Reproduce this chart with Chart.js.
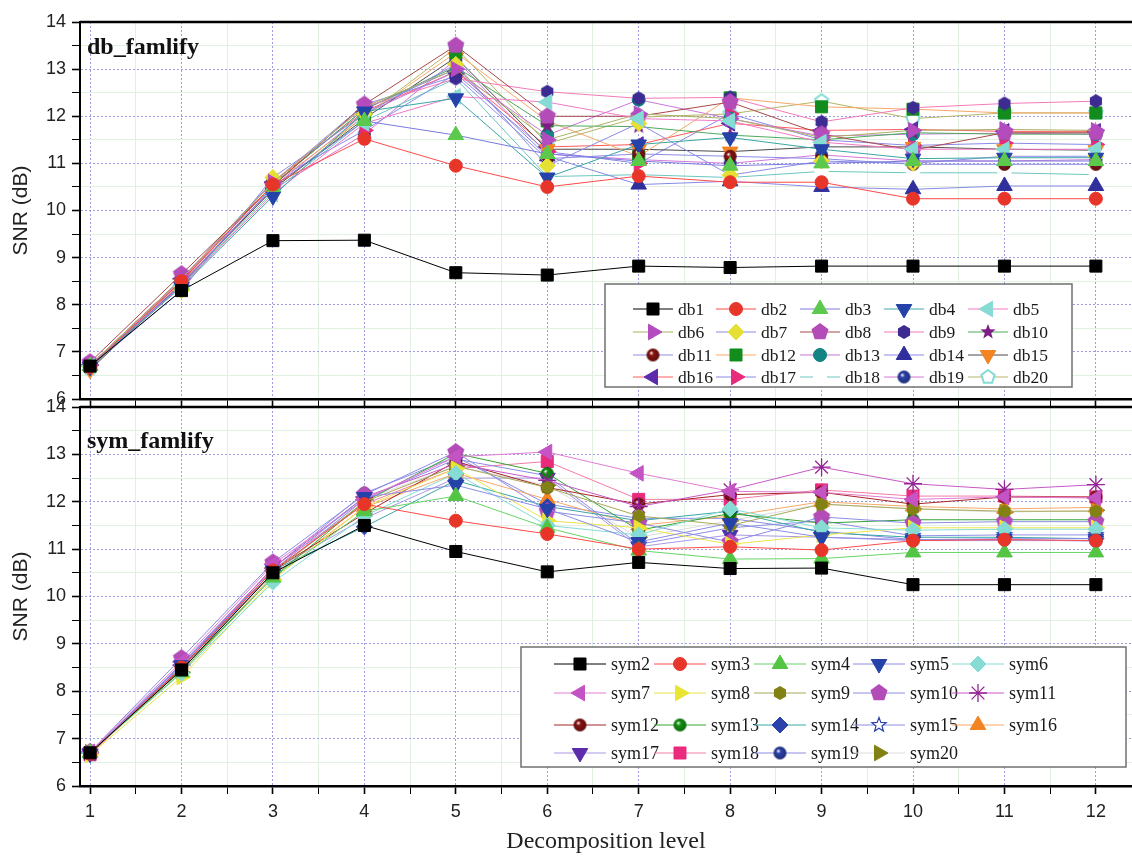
<!DOCTYPE html>
<html>
<head>
<meta charset="utf-8">
<title>SNR vs decomposition level</title>
<script src="https://cdn.jsdelivr.net/npm/chart.js@4.4.0/dist/chart.umd.min.js"></script>
<style>
  html, body { margin: 0; padding: 0; background: #fff; }
  #wrap { position: relative; width: 1132px; height: 856px; }
  #wrap canvas { position: absolute; left: 0; top: 0; }
</style>
</head>
<body>
<div id="wrap">
  <canvas id="dbChart" width="1132" height="856"></canvas>
  <canvas id="symChart" width="1132" height="856"></canvas>
</div>
<script>
// Decomposition levels on the x axis
const levels = [1, 2, 3, 4, 5, 6, 7, 8, 9, 10, 11, 12];

// Daubechies family, SNR (dB) per level
const dbNames = ['db1', 'db2', 'db3', 'db4', 'db5', 'db6', 'db7', 'db8', 'db9', 'db10',
                 'db11', 'db12', 'db13', 'db14', 'db15', 'db16', 'db17', 'db18', 'db19', 'db20'];
const dbSNR = [
  [6.70, 8.30, 9.36, 9.37, 8.68, 8.63, 8.82, 8.79, 8.82, 8.82, 8.82, 8.82],
  [6.68, 8.50, 10.55, 11.52, 10.95, 10.50, 10.73, 10.60, 10.60, 10.25, 10.25, 10.25],
  [6.70, 8.42, 10.50, 11.90, 11.60, 11.20, 11.05, 10.95, 11.00, 11.05, 11.05, 11.05],
  [6.68, 8.38, 10.30, 12.10, 12.38, 10.70, 11.40, 11.55, 11.30, 11.10, 11.12, 11.12],
  [6.70, 8.40, 10.35, 11.85, 12.42, 12.30, 11.95, 11.90, 11.45, 11.30, 11.30, 11.30],
  [6.72, 8.55, 10.60, 12.20, 13.00, 11.50, 12.05, 11.95, 11.55, 11.70, 11.72, 11.70],
  [6.68, 8.30, 10.70, 12.05, 13.10, 10.95, 11.85, 10.75, 11.05, 11.00, 11.15, 11.15],
  [6.78, 8.65, 10.52, 12.25, 13.50, 12.00, 12.00, 12.30, 11.62, 11.28, 11.65, 11.65],
  [6.72, 8.52, 10.60, 12.20, 12.80, 12.52, 12.38, 12.40, 11.88, 12.18, 12.27, 12.32],
  [6.70, 8.50, 10.55, 12.15, 13.05, 11.80, 11.78, 11.60, 11.50, 11.65, 11.62, 11.62],
  [6.71, 8.55, 10.60, 12.25, 12.85, 11.10, 11.20, 11.15, 11.10, 10.98, 10.98, 10.98],
  [6.69, 8.48, 10.55, 12.00, 13.35, 11.90, 11.15, 12.39, 12.20, 12.15, 12.07, 12.07],
  [6.70, 8.45, 10.50, 12.05, 12.95, 11.60, 12.35, 11.95, 11.58, 11.62, 11.64, 11.62],
  [6.70, 8.50, 10.55, 12.15, 13.00, 11.15, 10.55, 10.62, 10.50, 10.45, 10.52, 10.52],
  [6.62, 8.45, 10.45, 11.95, 13.25, 11.30, 11.30, 11.25, 11.35, 11.35, 11.30, 11.28],
  [6.72, 8.55, 10.60, 12.10, 12.95, 11.35, 11.40, 11.85, 11.70, 11.72, 11.68, 11.68],
  [6.72, 8.55, 10.62, 11.70, 12.90, 11.25, 11.00, 12.05, 11.50, 11.38, 11.43, 11.40],
  [6.68, 8.40, 10.40, 11.90, 12.80, 10.72, 10.76, 10.70, 10.83, 10.80, 10.80, 10.76],
  [6.67, 8.45, 10.45, 11.62, 13.20, 11.20, 11.08, 11.00, 11.18, 11.05, 11.05, 11.08],
  [6.65, 8.42, 10.45, 12.00, 13.45, 11.42, 11.98, 12.05, 12.32, 11.95, 12.07, 12.07]
];

// Symlet family, SNR (dB) per level
const symNames = ['sym2', 'sym3', 'sym4', 'sym5', 'sym6', 'sym7', 'sym8', 'sym9', 'sym10', 'sym11',
                  'sym12', 'sym13', 'sym14', 'sym15', 'sym16', 'sym17', 'sym18', 'sym19', 'sym20'];
const symSNR = [
  [6.70, 8.45, 10.50, 11.50, 10.95, 10.52, 10.72, 10.59, 10.60, 10.25, 10.25, 10.25],
  [6.68, 8.50, 10.55, 11.95, 11.60, 11.32, 11.00, 11.05, 10.98, 11.18, 11.20, 11.18],
  [6.70, 8.40, 10.40, 11.80, 12.12, 11.45, 10.97, 10.79, 10.80, 10.93, 10.93, 10.93],
  [6.68, 8.55, 10.55, 12.10, 12.35, 11.85, 11.15, 11.55, 11.25, 11.20, 11.22, 11.22],
  [6.70, 8.38, 10.30, 11.70, 12.60, 11.50, 11.30, 11.85, 11.45, 11.40, 11.42, 11.42],
  [6.72, 8.62, 10.68, 12.05, 12.95, 13.05, 12.60, 12.22, 12.20, 12.05, 12.10, 12.08],
  [6.66, 8.30, 10.35, 11.90, 12.70, 11.60, 11.45, 11.10, 11.30, 11.45, 11.45, 11.45],
  [6.70, 8.45, 10.50, 12.00, 12.75, 12.30, 11.70, 11.50, 11.95, 11.85, 11.80, 11.80],
  [6.72, 8.70, 10.72, 12.15, 13.05, 11.80, 11.55, 11.15, 11.68, 11.55, 11.58, 11.58],
  [6.70, 8.55, 10.60, 12.10, 12.80, 12.45, 11.90, 12.25, 12.73, 12.38, 12.26, 12.36],
  [6.68, 8.50, 10.55, 11.75, 12.85, 12.30, 11.95, 12.15, 12.20, 11.95, 12.10, 12.10],
  [6.69, 8.45, 10.40, 12.00, 13.02, 12.60, 11.40, 11.75, 11.55, 11.62, 11.62, 11.62],
  [6.70, 8.55, 10.55, 11.47, 12.45, 11.90, 11.60, 11.80, 11.35, 11.25, 11.25, 11.22],
  [6.68, 8.50, 10.50, 12.05, 12.90, 12.55, 11.10, 11.45, 11.60, 11.28, 11.30, 11.30],
  [6.70, 8.40, 10.45, 11.88, 12.60, 12.05, 11.50, 11.70, 12.00, 11.90, 11.85, 11.88],
  [6.70, 8.52, 10.55, 11.65, 12.50, 12.50, 11.05, 11.30, 11.25, 11.18, 11.18, 11.18],
  [6.66, 8.48, 10.62, 11.95, 12.70, 12.85, 12.05, 12.05, 12.25, 12.12, 12.12, 12.10],
  [6.70, 8.58, 10.60, 12.18, 12.95, 11.95, 11.65, 11.65, 11.38, 11.20, 11.20, 11.17],
  [6.71, 8.40, 10.52, 12.05, 12.75, 12.35, 11.25, 11.60, 11.95, 11.85, 11.78, 11.82]
];

// Line colours and [symbol, symbol colour] for each series
const dbLineColors = ['#000000', '#ff4a4a', '#7a7ae0', '#3aa6a6', '#f27ac6', '#aab264', '#8c8ce6',
  '#a84848', '#f47ab8', '#4caa5c', '#8c8ce6', '#f8a868', '#c878d8', '#8888e6', '#4a4a4a',
  '#ff5a5a', '#8a8ae6', '#6cc6be', '#d278d8', '#b4b468'];
const dbMarkers = [['square', '#000000'], ['circle', '#e8352a'], ['up', '#5cc84c'], ['down', '#2442a8'],
  ['left', '#86dcd4'], ['right', '#b44cc0'], ['diamond', '#e6e034'], ['pentagon', '#b44cb8'],
  ['hexagon', '#3c2c92'], ['star', '#7c1c84'], ['ball', '#861212'], ['square', '#128c1c'],
  ['circle', '#128484'], ['up', '#30309c'], ['down', '#f28424'], ['left', '#5c2cac'],
  ['right', '#ea2a7c'], ['blank', '#ffffff'], ['ball', '#2c42aa'], ['ringPentagon', '#86dcd4']];

const symLineColors = ['#000000', '#ff4a4a', '#66d466', '#8c8ce6', '#86dcd4', '#e27ad4', '#ece44a',
  '#a8a858', '#8c8ce6', '#c858c8', '#a82424', '#34a434', '#3aa6a6', '#8c8ce6', '#f8a868',
  '#a898e6', '#f47aa6', '#8c8ce6', '#dcdcdc'];
const symMarkers = [['square', '#000000'], ['circle', '#e8352a'], ['up', '#54c444'], ['down', '#2442a8'],
  ['diamond', '#86dcd4'], ['left', '#c454c4'], ['right', '#eae434'], ['hexagon', '#828214'],
  ['pentagon', '#b44cb8'], ['asterisk', '#942494'], ['ball', '#861212'], ['ball', '#129212'],
  ['diamond', '#2c42aa'], ['ringStar', '#2c42aa'], ['up', '#f28424'], ['down', '#5c2cac'],
  ['square', '#ea2a7c'], ['ball', '#2c42aa'], ['right', '#828214']];

function shade(hex, k) {
  const n = parseInt(hex.slice(1), 16);
  const ch = s => Math.round(((n >> s) & 255) * k);
  return 'rgb(' + ch(16) + ',' + ch(8) + ',' + ch(0) + ')';
}

// Symbols Chart.js has no built-in style for are drawn into small canvases
function makeMarker(kind, fill, stroke, size, lineWidth) {
  const c = document.createElement('canvas');
  const dim = Math.ceil(size + lineWidth * 2 + 2);
  c.width = c.height = dim;
  const g = c.getContext('2d');
  const m = dim / 2, r = size / 2;
  g.beginPath();
  if (kind === 'ball') {
    const grad = g.createRadialGradient(m - r * 0.3, m - r * 0.35, r * 0.05, m, m, r);
    grad.addColorStop(0, '#ffffff');
    grad.addColorStop(0.3, fill);
    grad.addColorStop(1, shade(fill, 0.7));
    g.fillStyle = grad;
    g.arc(m, m, r, 0, Math.PI * 2);
    g.fill();
    return c;
  }
  const n = kind === 'star' ? 10 : kind === 'hexagon' ? 6 : 5;
  for (let i = 0; i < n; i++) {
    const a = -Math.PI / 2 + i * 2 * Math.PI / n;
    const rr = kind === 'star' && i % 2 ? r * 0.42 : r;
    g.lineTo(m + rr * Math.cos(a), m + rr * Math.sin(a));
  }
  g.closePath();
  g.fillStyle = fill;
  g.fill();
  if (lineWidth) {
    g.lineWidth = lineWidth;
    g.strokeStyle = stroke;
    g.stroke();
  }
  return c;
}

function markerStyle([shape, color]) {
  const base = { pointBackgroundColor: color, pointBorderColor: color, pointBorderWidth: 1,
                 pointRotation: 0, pointRadius: 7 };
  switch (shape) {
    case 'square': return { ...base, pointStyle: 'rect', pointRadius: 8.5 };
    case 'circle': return { ...base, pointStyle: 'circle', pointRadius: 6.5 };
    case 'up': return { ...base, pointStyle: 'triangle', pointRadius: 9 };
    case 'down': return { ...base, pointStyle: 'triangle', pointRadius: 9, pointRotation: 180 };
    case 'left': return { ...base, pointStyle: 'triangle', pointRadius: 9, pointRotation: 270 };
    case 'right': return { ...base, pointStyle: 'triangle', pointRadius: 9, pointRotation: 90 };
    case 'diamond': return { ...base, pointStyle: 'rectRot', pointRadius: 8 };
    case 'asterisk': return { ...base, pointStyle: 'star', pointRadius: 9, pointBorderWidth: 1.3 };
    case 'blank': return { ...base, pointStyle: 'rectRot', pointRadius: 7 };
    case 'pentagon': return { ...base, pointStyle: makeMarker('pentagon', color, color, 18, 0) };
    case 'ringPentagon': return { ...base, pointStyle: makeMarker('pentagon', '#ffffff', color, 14, 2) };
    case 'hexagon': return { ...base, pointStyle: makeMarker('hexagon', color, color, 14, 0) };
    case 'star': return { ...base, pointStyle: makeMarker('star', color, color, 16, 0) };
    case 'ringStar': return { ...base, pointStyle: makeMarker('star', '#ffffff', color, 15, 1.2) };
    case 'ball': return { ...base, pointStyle: makeMarker('ball', color, color, 13, 0) };
  }
  return base;
}

function buildDatasets(names, values, lineColors, markers) {
  return names.map((name, i) => ({
    label: name,
    data: levels.map((lv, j) => ({ x: lv, y: values[i][j] })),
    borderColor: lineColors[i],
    borderWidth: 1,
    tension: 0,
    fill: false,
    ...markerStyle(markers[i])
  }));
}

// Boxed legend with a line/symbol sample in front of each name
const boxLegend = {
  id: 'boxLegend',
  afterDatasetsDraw(chart, args, opts) {
    const ctx = chart.ctx;
    const [bx, by, bw, bh] = opts.box;
    ctx.save();
    ctx.fillStyle = '#ffffff';
    ctx.fillRect(bx, by, bw, bh);
    ctx.strokeStyle = '#707070';
    ctx.lineWidth = 1.5;
    ctx.strokeRect(bx, by, bw, bh);
    ctx.font = opts.font;
    ctx.textBaseline = 'middle';
    chart.data.datasets.forEach((ds, i) => {
      const x = opts.cols[i % opts.cols.length];
      const y = opts.rows[Math.floor(i / opts.cols.length)];
      ctx.strokeStyle = ds.borderColor;
      ctx.lineWidth = 1;
      ctx.beginPath();
      ctx.moveTo(x, y);
      ctx.lineTo(x + opts.sample, y);
      ctx.stroke();
      if (Chart.helpers && Chart.helpers.drawPoint) {
        ctx.fillStyle = ds.pointBackgroundColor;
        ctx.strokeStyle = ds.pointBorderColor;
        ctx.lineWidth = ds.pointBorderWidth;
        Chart.helpers.drawPoint(ctx, {
          pointStyle: ds.pointStyle, rotation: ds.pointRotation,
          radius: ds.pointRadius, borderWidth: ds.pointBorderWidth
        }, x + opts.sample / 2, y);
      }
      ctx.fillStyle = '#1a1a1a';
      ctx.fillText(ds.label, x + opts.textGap, y + 1);
    });
    ctx.restore();
  }
};

// Family name in the upper left of each panel, plus the panel's top frame line
const panelDecor = {
  id: 'panelDecor',
  afterDraw(chart, args, opts) {
    const { ctx, chartArea } = chart;
    ctx.save();
    ctx.strokeStyle = '#000';
    ctx.lineWidth = 2.5;
    ctx.beginPath();
    ctx.moveTo(chartArea.left, chartArea.top);
    ctx.lineTo(chartArea.right, chartArea.top);
    ctx.stroke();
    ctx.fillStyle = '#111';
    ctx.font = 'bold 24px "Liberation Serif", "Times New Roman", serif';
    ctx.textBaseline = 'middle';
    ctx.fillText(opts.text, opts.x, opts.y);
    ctx.restore();
  }
};

const isMajor = c => !c.tick || Number.isInteger(c.tick.value);
const sans = '"Liberation Sans", Arial, sans-serif';
const serif = '"Liberation Serif", "Times New Roman", serif';

function panelOptions(cfg) {
  return {
    responsive: false,
    animation: false,
    events: [],
    devicePixelRatio: 1,
    layout: { padding: cfg.padding, autoPadding: false },
    plugins: {
      legend: { display: false },
      tooltip: { enabled: false },
      boxLegend: cfg.legend,
      panelDecor: cfg.tag
    },
    scales: {
      x: {
        type: 'linear',
        min: 0.89,
        max: 12.395,
        ticks: {
          display: cfg.showX,
          stepSize: 0.5,
          includeBounds: false,
          autoSkip: false,
          maxRotation: 0,
          padding: 7,
          color: '#222',
          font: { family: sans, size: 18 },
          callback: v => Number.isInteger(v) ? v : ''
        },
        grid: {
          color: c => isMajor(c) ? '#9c9ce2' : '#e2f0e2',
          lineWidth: 1,
          tickLength: 8,
          tickColor: '#000',
          tickWidth: c => isMajor(c) ? 1.6 : 1
        },
        border: { color: '#000', width: 2.5, dash: c => isMajor(c) ? [2, 2] : [] },
        title: {
          display: cfg.showX,
          text: 'Decomposition level',
          color: '#222',
          font: { family: serif, size: 24 },
          padding: { top: 0, bottom: 0 }
        },
        afterFit: s => { s.height = cfg.xHeight; }
      },
      y: {
        min: 6,
        max: 14,
        ticks: {
          stepSize: 0.5,
          autoSkip: false,
          padding: 6,
          color: '#222',
          font: { family: sans, size: 18 },
          callback: v => Number.isInteger(v) ? v : ''
        },
        grid: {
          color: c => isMajor(c) ? '#9c9ce2' : '#e2f0e2',
          lineWidth: 1,
          tickLength: 8,
          tickColor: '#000',
          tickWidth: c => isMajor(c) ? 1.6 : 1
        },
        border: { color: '#000', width: 2, dash: c => isMajor(c) ? [2, 2] : [] },
        title: {
          display: true,
          text: 'SNR (dB)',
          color: '#222',
          font: { family: sans, size: 21 },
          padding: { top: 9, bottom: 0 }
        },
        afterFit: s => { s.width = 80; }
      }
    }
  };
}

new Chart(document.getElementById('dbChart'), {
  type: 'line',
  data: { datasets: buildDatasets(dbNames, dbSNR, dbLineColors, dbMarkers) },
  options: panelOptions({
    padding: { top: 22, right: 0, bottom: 449, left: 0 },
    xHeight: 8,
    showX: false,
    tag: { text: 'db_famlify', x: 87, y: 48 },
    legend: {
      box: [605, 284, 467, 103],
      rows: [309, 332, 355, 377],
      cols: [633, 716, 800, 884, 968],
      sample: 40,
      textGap: 45,
      font: '17.5px ' + serif
    }
  }),
  plugins: [boxLegend, panelDecor]
});

new Chart(document.getElementById('symChart'), {
  type: 'line',
  data: { datasets: buildDatasets(symNames, symSNR, symLineColors, symMarkers) },
  options: panelOptions({
    padding: { top: 407, right: 0, bottom: 0, left: 0 },
    xHeight: 70,
    showX: true,
    tag: { text: 'sym_famlify', x: 87, y: 442 },
    legend: {
      box: [521, 647, 605, 120],
      rows: [664, 693, 725, 753],
      cols: [554, 654, 754, 853, 952],
      sample: 52,
      textGap: 57,
      font: '18px ' + serif
    }
  }),
  plugins: [boxLegend, panelDecor]
});
</script>
</body>
</html>
